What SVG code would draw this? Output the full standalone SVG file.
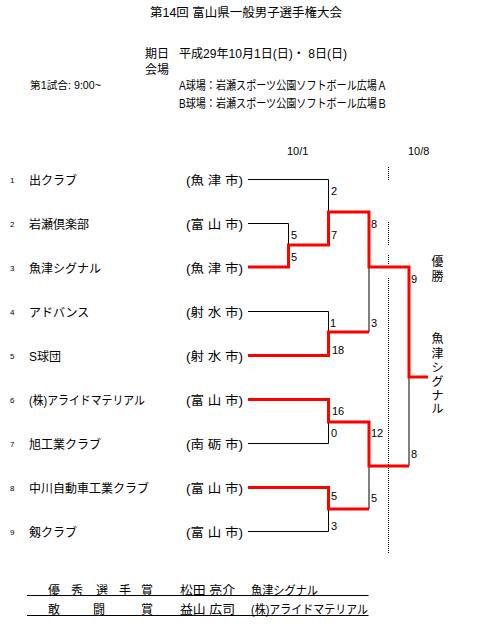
<svg xmlns="http://www.w3.org/2000/svg" width="479" height="627" viewBox="0 0 479 627">
<style>
text{font-family:"Liberation Sans","Noto Sans CJK JP",sans-serif;fill:#000}
.t{font-size:12px}
.s{font-size:10px}
.n{font-size:8px}
.sc{font-size:11px}
.b{fill:none;stroke:#000;stroke-width:1}
.r{fill:none;stroke:#f00;stroke-width:3;stroke-linejoin:miter}
.d{fill:none;stroke:#000;stroke-width:1;stroke-dasharray:1 1}
</style>
<rect width="479" height="627" fill="#fff"/>
<g id="header">
<text class="t" x="150" y="16.5" textLength="192" lengthAdjust="spacingAndGlyphs">第14回  富山県一般男子選手権大会</text>
<text class="t" x="145" y="57.5">期日</text>
<text class="t" x="179" y="57.5" textLength="168" lengthAdjust="spacingAndGlyphs">平成29年10月1日(日)・ 8日(日)</text>
<text class="t" x="145" y="73.5">会場</text>
<text class="s" x="30" y="89" textLength="71" lengthAdjust="spacingAndGlyphs">第1試合: 9:00~</text>
<text class="t" x="179" y="89.5" textLength="208" lengthAdjust="spacingAndGlyphs">A球場：岩瀬スポーツ公園ソフトボール広場Ａ</text>
<text class="t" x="179" y="107.5" textLength="208" lengthAdjust="spacingAndGlyphs">B球場：岩瀬スポーツ公園ソフトボール広場Ｂ</text>
<text class="sc" x="287" y="155">10/1</text>
<text class="sc" x="408" y="155">10/8</text>
</g>
<g id="teams">
<g id="team1"><text class="n" x="10" y="183">1</text><text class="t" x="29" y="184.5">出クラブ</text><text class="t" x="186" y="184.5" textLength="57" lengthAdjust="spacingAndGlyphs">(魚 津 市)</text></g>
<g id="team2"><text class="n" x="10" y="227">2</text><text class="t" x="29" y="228.5">岩瀬倶楽部</text><text class="t" x="186" y="228.5" textLength="57" lengthAdjust="spacingAndGlyphs">(富 山 市)</text></g>
<g id="team3"><text class="n" x="10" y="271">3</text><text class="t" x="29" y="272.5">魚津シグナル</text><text class="t" x="186" y="272.5" textLength="57" lengthAdjust="spacingAndGlyphs">(魚 津 市)</text></g>
<g id="team4"><text class="n" x="10" y="315">4</text><text class="t" x="29" y="316.5">アドバンス</text><text class="t" x="186" y="316.5" textLength="57" lengthAdjust="spacingAndGlyphs">(射 水 市)</text></g>
<g id="team5"><text class="n" x="10" y="359">5</text><text class="t" x="29" y="360.5">S球団</text><text class="t" x="186" y="360.5" textLength="57" lengthAdjust="spacingAndGlyphs">(射 水 市)</text></g>
<g id="team6"><text class="n" x="10" y="403">6</text><text class="t" x="29" y="404.5" textLength="116" lengthAdjust="spacingAndGlyphs">(株)アライドマテリアル</text><text class="t" x="186" y="404.5" textLength="57" lengthAdjust="spacingAndGlyphs">(富 山 市)</text></g>
<g id="team7"><text class="n" x="10" y="447">7</text><text class="t" x="29" y="448.5">旭工業クラブ</text><text class="t" x="186" y="448.5" textLength="57" lengthAdjust="spacingAndGlyphs">(南 砺 市)</text></g>
<g id="team8"><text class="n" x="10" y="491">8</text><text class="t" x="29" y="492.5">中川自動車工業クラブ</text><text class="t" x="186" y="492.5" textLength="57" lengthAdjust="spacingAndGlyphs">(富 山 市)</text></g>
<g id="team9"><text class="n" x="10" y="535">9</text><text class="t" x="29" y="536.5">剱クラブ</text><text class="t" x="186" y="536.5" textLength="57" lengthAdjust="spacingAndGlyphs">(富 山 市)</text></g>
</g>
<g id="connectors">
<path class="d" d="M388.5 167V180M388.5 222V245M388.5 255V265M388.5 278V553"/>
<path class="b" d="M248 179.5H328.5V212M248 223.5H288.5V245M248 311.5H328.5V332M369 332V267M248 443.5H328.5V422M248 531.5H328.5V509M369 509V466M409 466V377"/>
<path class="r" d="M248 267H288.5V245H328.5V212H369V267H409V377H428"/>
<path class="r" d="M248 355.5H328.5V332H369"/>
<path class="r" d="M248 399.5H328.5V422H369V466H409"/>
<path class="r" d="M248 487.5H328.5V509H369"/>
</g>
<g id="scores">
<text class="sc" x="331" y="195">2</text>
<text class="sc" x="291" y="239">5</text>
<text class="sc" x="291" y="260.5">5</text>
<text class="sc" x="331" y="239">7</text>
<text class="sc" x="371" y="228">8</text>
<text class="sc" x="330" y="326.5">1</text>
<text class="sc" x="332" y="354">18</text>
<text class="sc" x="371" y="326.5">3</text>
<text class="sc" x="411" y="282.5">9</text>
<text class="sc" x="332" y="415">16</text>
<text class="sc" x="331" y="436.5">0</text>
<text class="sc" x="371" y="436.5">12</text>
<text class="sc" x="411" y="458">8</text>
<text class="sc" x="331" y="500">5</text>
<text class="sc" x="371" y="502">5</text>
<text class="sc" x="331" y="530">3</text>
</g>
<g id="winner">
<text class="t" x="437.5" y="265.5" text-anchor="middle">優</text>
<text class="t" x="437.5" y="280.5" text-anchor="middle">勝</text>
<text class="t" x="437.5" y="343" text-anchor="middle">魚</text>
<text class="t" x="437.5" y="357.5" text-anchor="middle">津</text>
<text class="t" x="437.5" y="372" text-anchor="middle">シ</text>
<text class="t" x="437.5" y="386" text-anchor="middle">グ</text>
<text class="t" x="437.5" y="400" text-anchor="middle">ナ</text>
<text class="t" x="437.5" y="413" text-anchor="middle">ル</text>
</g>
<g id="awards">
<text class="t" x="48" y="595">優</text>
<text class="t" x="71" y="595">秀</text>
<text class="t" x="96" y="595">選</text>
<text class="t" x="119" y="595">手</text>
<text class="t" x="141" y="595">賞</text>
<text class="t" x="180" y="595" textLength="55" lengthAdjust="spacingAndGlyphs">松田 亮介</text>
<text class="t" x="251" y="595" textLength="67" lengthAdjust="spacingAndGlyphs">魚津シグナル</text>
<line class="b" x1="27" y1="595.5" x2="368.5" y2="595.5"/>
<text class="t" x="48" y="614">敢</text>
<text class="t" x="93" y="614">闘</text>
<text class="t" x="141" y="614">賞</text>
<text class="t" x="180" y="614" textLength="55" lengthAdjust="spacingAndGlyphs">益山 広司</text>
<text class="t" x="251" y="614" textLength="117" lengthAdjust="spacingAndGlyphs">(株)アライドマテリアル</text>
<line class="b" x1="27" y1="615.5" x2="368.5" y2="615.5"/>
</g>
</svg>
